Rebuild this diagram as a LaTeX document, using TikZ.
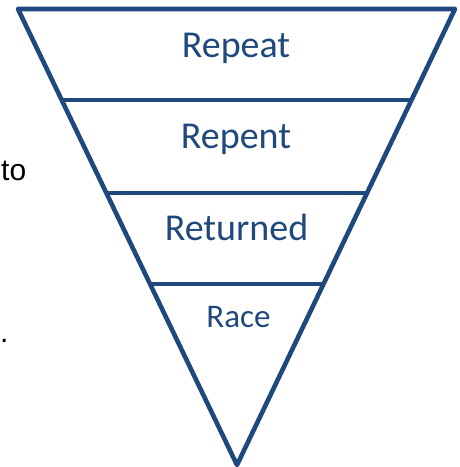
\documentclass[tikz,border=0pt]{standalone}
\usepackage{fontspec}
\setmainfont{Carlito}
\newfontfamily\arialfont{Liberation Sans}
\usetikzlibrary{calc}
\definecolor{funBlue}{HTML}{1F497D}
\tikzset{
  funnel/.style={draw=funBlue, line width=4.6pt, line join=round},
  divider/.style={draw=funBlue, line width=3.8pt},
  stage/.style={text=funBlue, anchor=base, inner sep=0pt, font=\fontsize{#1}{#1}\selectfont},
  stage/.default=38pt,
  sidetext/.style={text=black, anchor=base west, inner sep=0pt, font=\arialfont\fontsize{30}{30}\selectfont},
}

\begin{document}
\begin{tikzpicture}[x=1pt, y=-1pt]
\useasboundingbox (0,0) rectangle (459,467);

\coordinate (TL) at (18,9);
\coordinate (TR) at (455,9);
\coordinate (A) at (237,465);

\draw[funnel] (TL) -- (TR) -- (A) -- cycle;

% dividers, at y = 100, 193, 284
\foreach \y [count=\i] in {100,193,284} {
  \pgfmathsetmacro{\t}{(\y-9)/456}
  \coordinate (L\i) at ($(TL)!\t!(A)$);
  \coordinate (R\i) at ($(TR)!\t!(A)$);
  \draw[divider] (L\i) -- (R\i);
}

\node[stage] (repeat) at (236,57) {Repeat};
\node[stage] (repent) at (236,148) {Repent};
\node[stage] (returned) at (236.5,240) {Returned};
\node[stage=33pt] (race) at (238.5,327) {Race};

\node[sidetext] (to) at (1,180) {to};
\node[sidetext] (dot) at (0,342) {.};

\end{tikzpicture}
\end{document}
